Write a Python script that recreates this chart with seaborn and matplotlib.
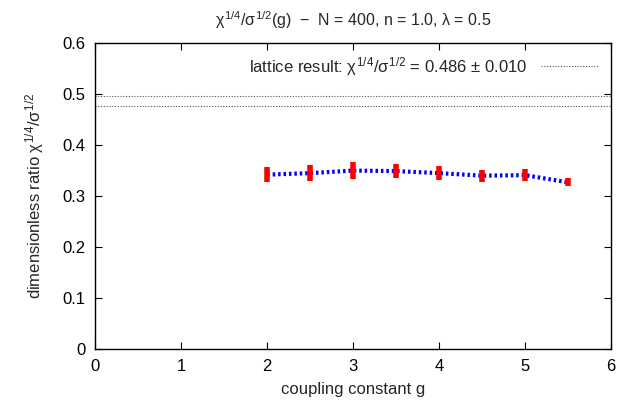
import matplotlib
matplotlib.use("Agg")
import matplotlib.pyplot as plt
import seaborn as sns
import pandas as pd

# data
g = [2.0, 2.5, 3.0, 3.5, 4.0, 4.5, 5.0, 5.5]
ratio = [0.342, 0.345, 0.350, 0.349, 0.345, 0.340, 0.341, 0.327]
ratio_err = [0.015, 0.015, 0.017, 0.014, 0.014, 0.012, 0.012, 0.008]
lattice_value = 0.486
lattice_err = 0.010

df = pd.DataFrame({"g": g, "ratio": ratio, "err": ratio_err})

sns.set_style("ticks")
plt.rcParams["font.family"] = ["Liberation Sans", "DejaVu Sans"]
plt.rcParams["mathtext.fontset"] = "custom"
plt.rcParams["mathtext.rm"] = "Liberation Sans"
plt.rcParams["mathtext.it"] = "Liberation Sans"

fs = 12

fig, ax = plt.subplots(figsize=(6.24, 4.03), dpi=100)
fig.subplots_adjust(left=0.153, right=0.979, top=0.893, bottom=0.134)

ax.axhline(lattice_value + lattice_err, color="#555555", lw=0.8, ls=(0, (1, 1.5)))
ax.axhline(lattice_value - lattice_err, color="#555555", lw=0.8, ls=(0, (1, 1.5)),
           label=r"lattice result: $\chi^{1/4}/\sigma^{1/2}$ = 0.486 $\pm$ 0.010")

sns.lineplot(data=df, x="g", y="ratio", ax=ax, color="blue", lw=3,
             linestyle=(0, (0.6, 0.7)), legend=False, zorder=3)
ax.errorbar(df["g"], df["ratio"], yerr=df["err"], fmt="none", ecolor="red",
            elinewidth=4, capsize=0, zorder=4)

ax.set_xlim(0, 6)
ax.set_ylim(0, 0.6)
ax.set_xticks(range(0, 7))
ax.set_yticks([0, 0.1, 0.2, 0.3, 0.4, 0.5, 0.6])
ax.set_yticklabels(["0", "0.1", "0.2", "0.3", "0.4", "0.5", "0.6"])
ax.tick_params(direction="in", length=5, width=0.8, labelsize=fs,
               top=True, right=True, pad=7, colors="black")
for s in ax.spines.values():
    s.set_linewidth(1.0)
    s.set_color("black")

ax.set_xlabel("coupling constant g", fontsize=fs, labelpad=6)
ax.set_ylabel(r"dimensionless ratio $\chi^{1/4}/\sigma^{1/2}$", fontsize=fs, labelpad=12)
ax.set_title(r"$\chi^{1/4}/\sigma^{1/2}$(g)  $-$  N = 400, n = 1.0, $\lambda$ = 0.5",
             fontsize=11.5, pad=12)

ax.legend(loc="upper right", frameon=False, markerfirst=False, fontsize=fs,
          handlelength=3.5, borderaxespad=0.3)

plt.savefig("out.png", dpi=100)
